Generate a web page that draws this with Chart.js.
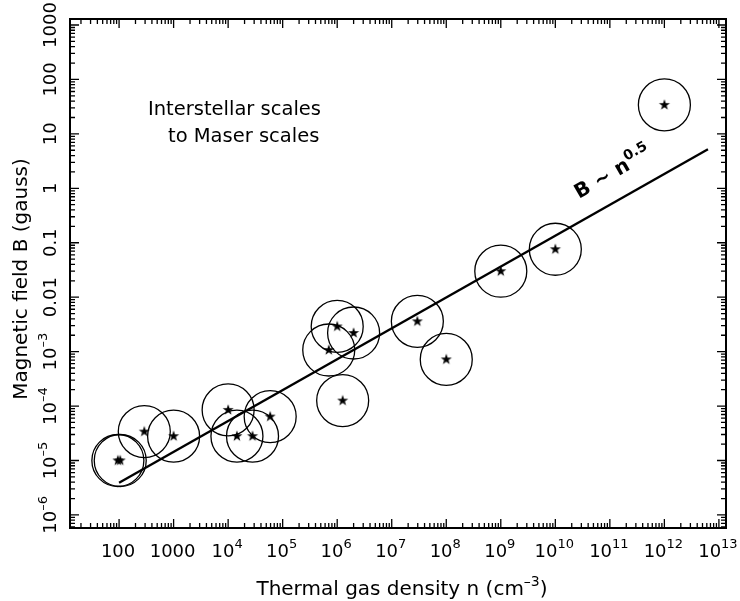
<!DOCTYPE html>
<html><head><meta charset="utf-8">
<script src="https://cdn.jsdelivr.net/npm/chart.js@4.4.0/dist/chart.umd.min.js"></script>
<style>html,body{margin:0;padding:0;background:#fff;}#wrap{width:740px;height:601px;}</style>
</head><body><div id="wrap"><canvas id="c" width="740" height="601"></canvas></div>
<script>
// ---- data ----
const densities = [95, 105, 290, 1000, 1.0e4, 1.45e4, 2.8e4, 5.9e4, 7.0e5, 1.0e6, 2.0e6, 1.26e6, 2.95e7, 1.0e8, 1.0e9, 1.0e10, 1.0e12];
const fields    = [1.0e-5, 1.0e-5, 3.4e-5, 2.8e-5, 8.5e-5, 2.8e-5, 2.8e-5, 6.4e-5, 1.07e-3, 2.9e-3, 2.2e-3, 1.26e-4, 3.6e-3, 7.2e-4, 0.030, 0.076, 34];
const fitDensity = [100, 6.3e12];
const fitField   = [3.9e-6, 5.2];
const xTickValues = [1e2,1e3,1e4,1e5,1e6,1e7,1e8,1e9,1e10,1e11,1e12,1e13];
const xTickLabels = ['100','1000','10^4','10^5','10^6','10^7','10^8','10^9','10^10','10^11','10^12','10^13'];
const yTickValues = [1e-6,1e-5,1e-4,1e-3,1e-2,1e-1,1,10,100,1000];
const yTickLabels = ['10^\u20136','10^\u20135','10^\u20134','10^\u20133','0.01','0.1','1','10','100','1000'];
const xTitle = 'Thermal gas density n (cm^\u20133^)';
const yTitle = 'Magnetic field B (gauss)';
const noteLines = ['Interstellar scales','to Maser scales'];
const fitLabel = 'B ~ n^0.5';

const FONT = '"DejaVu Sans", sans-serif';

function parse(label){ // '^' toggles superscript
  const parts = label.split('^');
  return parts.map((t,i)=>({t, sup: i%2===1})).filter(s=>s.t.length);
}
function drawRich(ctx, label, x, y, align, size, supSize, raise, weight){
  const segs = parse(label);
  const w = (weight||'normal');
  let total = 0;
  segs.forEach(s=>{ ctx.font = w+' '+(s.sup?supSize:size)+'px '+FONT; s.w = ctx.measureText(s.t).width; total += s.w; });
  let cx = align==='center' ? x - total/2 : (align==='right' ? x - total : x);
  ctx.textAlign='left'; ctx.textBaseline='alphabetic';
  segs.forEach(s=>{ ctx.font = w+' '+(s.sup?supSize:size)+'px '+FONT; ctx.fillText(s.t, cx, y - (s.sup?raise:0)); cx += s.w; });
}

// filled five-pointed star marker
const star = document.createElement('canvas');
star.width = 14; star.height = 14;
(function(){
  const g = star.getContext('2d'); g.fillStyle='#000'; g.beginPath();
  for(let i=0;i<10;i++){ const r = i%2?2.3:5.8; const a = -Math.PI/2 + i*Math.PI/5; g.lineTo(7+r*Math.cos(a), 7+r*Math.sin(a)); }
  g.closePath(); g.fill();
})();

const decor = {
  id:'decor',
  afterDraw(chart){
    const ctx = chart.ctx, a = chart.chartArea, xs = chart.scales.x, ys = chart.scales.y;
    ctx.save();
    ctx.strokeStyle='#000'; ctx.fillStyle='#000';
    ctx.lineWidth = 2;
    ctx.strokeRect(a.left, a.top, a.right-a.left, a.bottom-a.top);
    ctx.lineWidth = 1.3;
    ctx.beginPath();
    for(let k=Math.floor(Math.log10(xs.min)); k<=Math.ceil(Math.log10(xs.max)); k++){
      for(let m=1;m<=9;m++){
        const v = m*Math.pow(10,k); if(v<xs.min||v>xs.max) continue;
        const p = xs.getPixelForValue(v), L = m===1?9:5;
        ctx.moveTo(p, a.bottom); ctx.lineTo(p, a.bottom-L);
        ctx.moveTo(p, a.top); ctx.lineTo(p, a.top+L);
      }
    }
    for(let k=Math.floor(Math.log10(ys.min)); k<=Math.ceil(Math.log10(ys.max)); k++){
      for(let m=1;m<=9;m++){
        const v = m*Math.pow(10,k); if(v<ys.min||v>ys.max) continue;
        const p = ys.getPixelForValue(v), L = m===1?9:5;
        ctx.moveTo(a.left, p); ctx.lineTo(a.left+L, p);
        ctx.moveTo(a.right, p); ctx.lineTo(a.right-L, p);
      }
    }
    ctx.stroke();
    // tick labels
    xTickValues.forEach((v,i)=>{ drawRich(ctx, xTickLabels[i], xs.getPixelForValue(v)-1, 557, 'center', 18, 13, 9); });
    yTickValues.forEach((v,i)=>{
      ctx.save(); ctx.translate(56, ys.getPixelForValue(v)); ctx.rotate(-Math.PI/2);
      drawRich(ctx, yTickLabels[i], 0, 0, 'center', 18, 13, 9); ctx.restore();
    });
    // axis titles
    drawRich(ctx, xTitle, 402, 595, 'center', 20, 14, 9);
    ctx.save(); ctx.translate(27, 279); ctx.rotate(-Math.PI/2);
    drawRich(ctx, yTitle, 0, 0, 'center', 20, 14, 9); ctx.restore();
    // notes
    drawRich(ctx, noteLines[0], 148, 115, 'left', 19.5, 14, 9);
    drawRich(ctx, noteLines[1], 168, 142, 'left', 19.5, 14, 9);
    // fit label
    ctx.save(); ctx.translate(579, 199); ctx.rotate(-30*Math.PI/180);
    drawRich(ctx, fitLabel, 0, 0, 'left', 20, 14, 9, 'bold'); ctx.restore();
    ctx.restore();
  }
};

const pts = densities.map((n,i)=>({x:n, y:fields[i]}));
new Chart(document.getElementById('c'), {
  type:'scatter',
  data:{ datasets:[
    { data: fitDensity.map((n,i)=>({x:n,y:fitField[i]})), showLine:true, borderColor:'#000', borderWidth:2.4, pointRadius:0, fill:false },
    { data: pts, pointStyle:'circle', pointRadius:26, pointBorderWidth:1.3, pointBorderColor:'#000', pointBackgroundColor:'rgba(0,0,0,0)', showLine:false },
    { data: pts, pointStyle: star, pointRadius:5, showLine:false }
  ]},
  options:{
    responsive:false, animation:false, devicePixelRatio:1,
    layout:{ autoPadding:false, padding:{ left:70, right:14, top:19, bottom:73 } },
    plugins:{ legend:{display:false}, tooltip:{enabled:false} },
    scales:{
      x:{ type:'logarithmic', min: Math.pow(10,1.1), max: Math.pow(10,13.13), display:false },
      y:{ type:'logarithmic', min: Math.pow(10,-6.24), max: Math.pow(10,3.11), display:false }
    }
  },
  plugins:[decor]
});
</script></body></html>
